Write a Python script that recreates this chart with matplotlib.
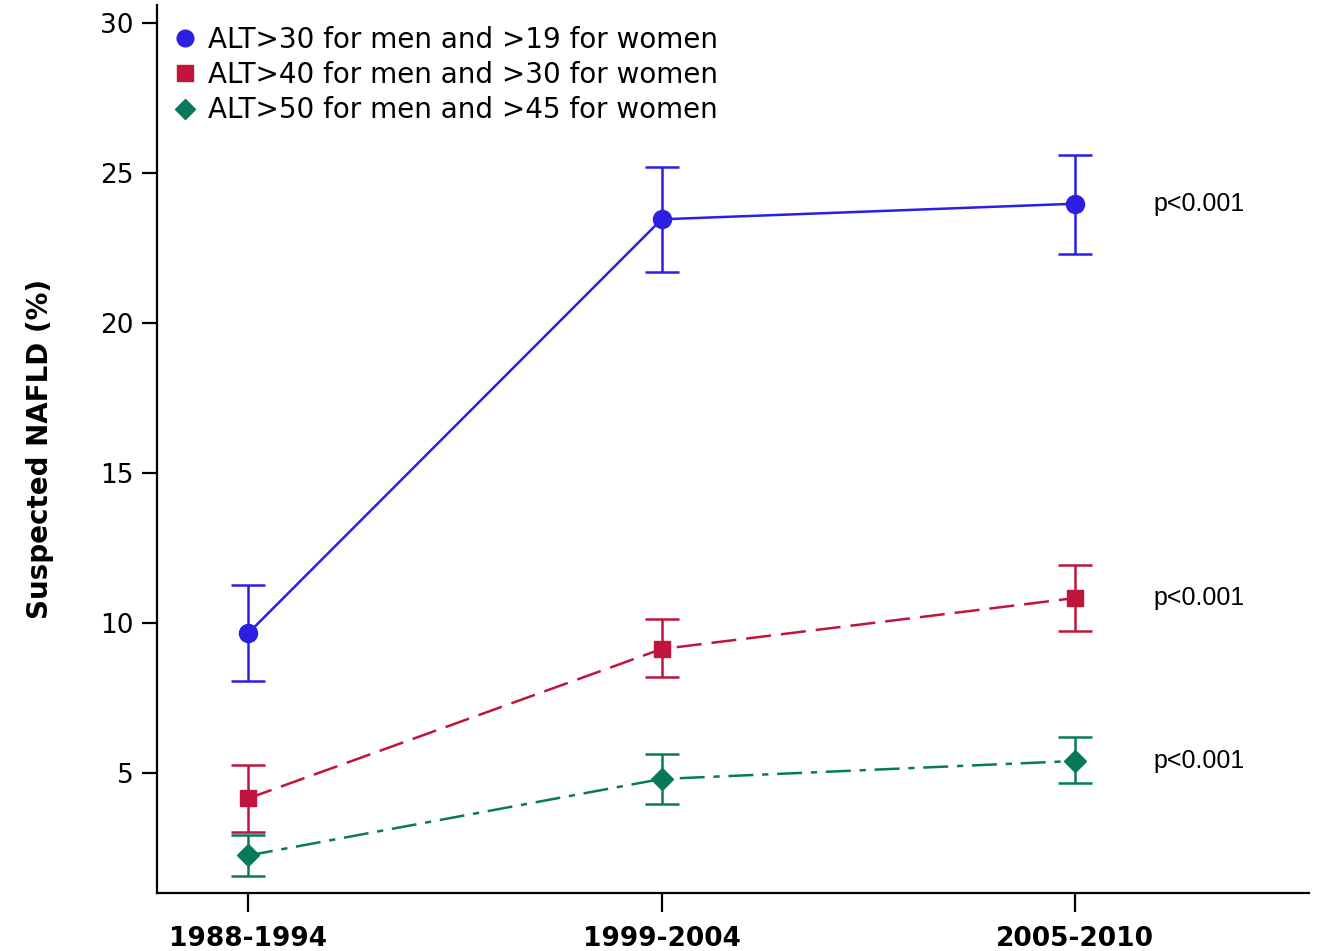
import matplotlib.pyplot as plt

# data
periods = ["1988-1994", "1999-2004", "2005-2010"]
labels = ["ALT>30 for men and >19 for women",
          "ALT>40 for men and >30 for women",
          "ALT>50 for men and >45 for women"]

alt30_mean = [9.65, 23.45, 23.97]
alt30_low = [8.05, 21.7, 22.3]
alt30_high = [11.25, 25.2, 25.6]

alt40_mean = [4.15, 9.13, 10.83]
alt40_low = [3.03, 8.2, 9.73]
alt40_high = [5.27, 10.13, 11.93]

alt50_mean = [2.25, 4.8, 5.4]
alt50_low = [1.57, 3.97, 4.67]
alt50_high = [2.93, 5.63, 6.2]

p_text = ["p<0.001", "p<0.001", "p<0.001"]

colors = ["#2b1fe3", "#c0143c", "#08795a"]
markers = ["o", "s", "D"]
sizes = [13, 12, 11]
styles = ["-", (0, (10, 4)), (0, (10, 3.5, 2.5, 3.5))]

fig = plt.figure(figsize=(13.24, 9.51), dpi=100)
ax = fig.add_axes([0.1186, 0.061, 0.870, 0.934])

x = list(range(len(periods)))
series = [(alt30_mean, alt30_low, alt30_high),
          (alt40_mean, alt40_low, alt40_high),
          (alt50_mean, alt50_low, alt50_high)]

for i, (m, lo, hi) in enumerate(series):
    yerr = [[a - b for a, b in zip(m, lo)], [b - a for a, b in zip(m, hi)]]
    ax.errorbar(x, m, yerr=yerr, color=colors[i], marker=markers[i],
                markersize=sizes[i], linestyle=styles[i], linewidth=1.8,
                elinewidth=1.8, capsize=12, capthick=1.8, label=labels[i])
    ax.text(2.19, m[-1], p_text[i], fontsize=18, va="center", ha="left",
            family="Liberation Sans")

ax.set_xlim(-0.22, 2.565)
ax.set_ylim(1, 30.6)
ax.set_yticks([5, 10, 15, 20, 25, 30])
ax.set_xticks(x)
ax.set_xticklabels(periods, fontsize=19, fontweight="bold")
ax.tick_params(axis="y", labelsize=19, length=11, width=1.6, pad=6)
ax.tick_params(axis="x", length=14, width=1.6, pad=10)
for s in ["top", "right"]:
    ax.spines[s].set_visible(False)
for s in ["left", "bottom"]:
    ax.spines[s].set_linewidth(1.6)

ax.set_ylabel("Suspected NAFLD (%)", fontsize=20, fontweight="bold", labelpad=33)

# legend with markers only
handles = [plt.Line2D([], [], color=colors[i], marker=markers[i], linestyle="none",
                      markersize=sizes[i] - 1) for i in range(3)]
ax.legend(handles, labels, loc="upper left", bbox_to_anchor=(-0.005, 0.998),
          frameon=False, fontsize=20, handletextpad=0.35, labelspacing=0.26,
          borderaxespad=0.3, handlelength=1.0)

fig.savefig("out.png", dpi=100)
